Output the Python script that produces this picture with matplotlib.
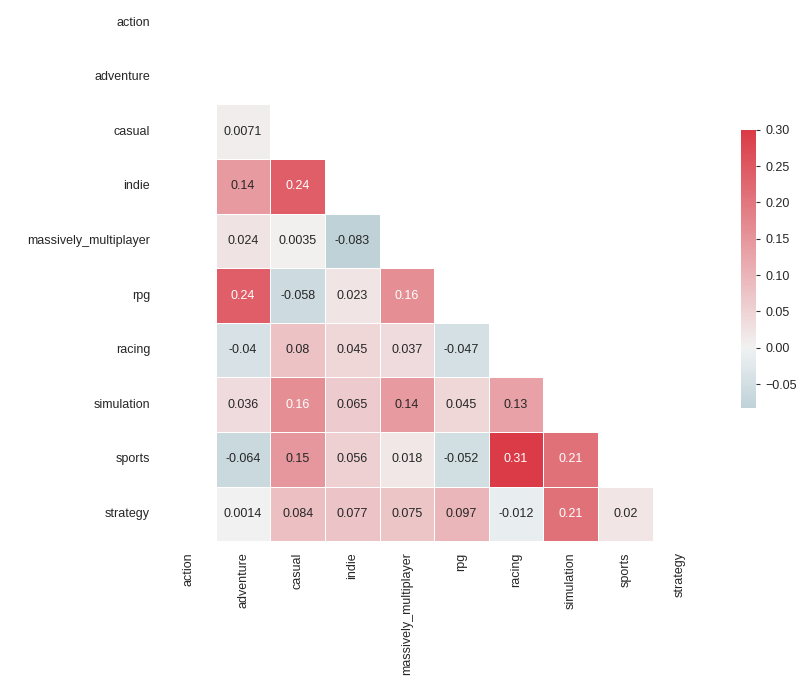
"""
ジャンル間の相関行列のヒートマップ
"""

import numpy as np
import pandas as pd
import matplotlib
matplotlib.use('Agg')
import matplotlib.pyplot as plt
import seaborn as sns

genres = ['action', 'adventure', 'casual', 'indie', 'massively_multiplayer',
          'rpg', 'racing', 'simulation', 'sports', 'strategy']

# 下三角の相関値 (action 列は NaN)
lower_rows = [
    [],
    [np.nan],
    [np.nan, 0.0071],
    [np.nan, 0.14, 0.24],
    [np.nan, 0.024, 0.0035, -0.083],
    [np.nan, 0.24, -0.058, 0.023, 0.16],
    [np.nan, -0.04, 0.08, 0.045, 0.037, -0.047],
    [np.nan, 0.036, 0.16, 0.065, 0.14, 0.045, 0.13],
    [np.nan, -0.064, 0.15, 0.056, 0.018, -0.052, 0.31, 0.21],
    [np.nan, 0.0014, 0.084, 0.077, 0.075, 0.097, -0.012, 0.21, 0.02],
]

n = len(genres)
corr_vals = np.full((n, n), np.nan)
for i, row in enumerate(lower_rows):
    for j, v in enumerate(row):
        corr_vals[i, j] = v
        corr_vals[j, i] = v
corr = pd.DataFrame(corr_vals, index=genres, columns=genres)

mask = np.triu(np.ones_like(corr, dtype=bool))

sns.set_theme(style='white')
plt.rcParams['font.family'] = ['Liberation Sans', 'DejaVu Sans']

fig = plt.figure(figsize=(8.1, 6.8), dpi=100)
ax = fig.add_axes([0.199, 0.204, 0.674, 0.803])
cax = fig.add_axes([0.915, 0.4, 0.0185, 0.409])

cmap = sns.diverging_palette(220, 10, as_cmap=True)
sns.heatmap(corr, mask=mask, cmap=cmap, vmax=.3, center=0, square=True,
            linewidths=.5, annot=True, annot_kws={'size': 9},
            ax=ax, cbar_ax=cax)

ax.tick_params(axis='both', labelsize=9, pad=2)
ax.set_yticklabels(genres, rotation=0)
ax.set_xticklabels(genres, rotation=90)
cax.tick_params(labelsize=9, length=3, width=0.8, color='#333333', right=True)

plt.savefig('out.png', dpi=100)
